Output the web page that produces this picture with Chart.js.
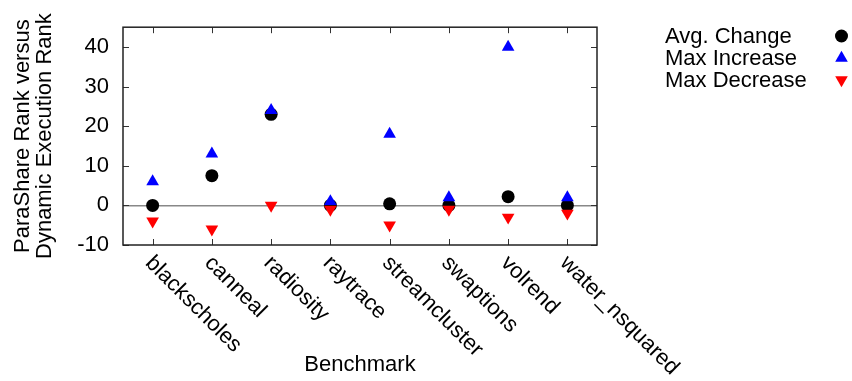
<!DOCTYPE html>
<html>
<head>
<meta charset="utf-8">
<script src="https://cdn.jsdelivr.net/npm/chart.js@4.4.0/dist/chart.umd.min.js"></script>
<style>
  body { margin: 0; background: #fff; }
  #wrap { width: 852px; height: 381px; }
</style>
</head>
<body>
<div id="wrap"><canvas id="rankChart" width="852" height="381"></canvas></div>
<script>
const benchmarks = ['blackscholes', 'canneal', 'radiosity', 'raytrace', 'streamcluster', 'swaptions', 'volrend', 'water_nsquared'];
const avgChange = [0, 7.5, 23, 0, 0.4, 0, 2.2, 0];
const maxIncrease = [6, 13, 24, 1, 18, 2, 40, 2];
const maxDecrease = [-4, -6, 0, -1, -5, -1, -3, -2];
const yTicks = [-10, 0, 10, 20, 30, 40];

const FAMILY = "'Liberation Sans', Arial, Helvetica, sans-serif";
const FONT_SIZE = 22;

// gnuplot-ish marker, same geometry as Chart.js pointStyle
function drawMarker(ctx, style, rot, r, x, y, color) {
  ctx.save();
  ctx.fillStyle = color;
  ctx.beginPath();
  if (style === 'circle') {
    ctx.arc(x, y, r, 0, Math.PI * 2);
  } else {
    let rad = rot * Math.PI / 180;
    ctx.moveTo(x + Math.sin(rad) * r, y - Math.cos(rad) * r);
    rad += Math.PI * 2 / 3;
    ctx.lineTo(x + Math.sin(rad) * r, y - Math.cos(rad) * r);
    rad += Math.PI * 2 / 3;
    ctx.lineTo(x + Math.sin(rad) * r, y - Math.cos(rad) * r);
    ctx.closePath();
  }
  ctx.fill();
  ctx.restore();
}

const framePlugin = {
  id: 'frame',
  afterDraw(chart) {
    const {ctx, chartArea: a, scales: {x, y}} = chart;
    ctx.save();

    // inward tick marks
    ctx.strokeStyle = '#333';
    ctx.lineWidth = 1;
    ctx.beginPath();
    yTicks.forEach(v => {
      const py = Math.round(y.getPixelForValue(v)) + 0.5;
      ctx.moveTo(a.left, py); ctx.lineTo(a.left + 6, py);
      ctx.moveTo(a.right, py); ctx.lineTo(a.right - 6, py);
    });
    benchmarks.forEach((b, i) => {
      const px = Math.round(x.getPixelForTick(i)) + 0.5;
      ctx.moveTo(px, a.bottom); ctx.lineTo(px, a.bottom - 6);
      ctx.moveTo(px, a.top); ctx.lineTo(px, a.top + 6);
    });
    ctx.stroke();

    // border box
    ctx.strokeStyle = '#222';
    ctx.lineWidth = 1.5;
    ctx.strokeRect(a.left, a.top, a.right - a.left, a.bottom - a.top);

    // rotated category labels
    ctx.fillStyle = '#000';
    ctx.font = FONT_SIZE + 'px ' + FAMILY;
    ctx.textAlign = 'left';
    ctx.textBaseline = 'top';
    benchmarks.forEach((b, i) => {
      const px = x.getPixelForTick(i);
      ctx.save();
      ctx.translate(px + 4, a.bottom + 7);
      ctx.rotate(Math.PI / 4);
      ctx.fillText(b, 0, 0);
      ctx.restore();
    });

    // legend, text left and marker right like gnuplot
    ctx.textBaseline = 'alphabetic';
    chart.data.datasets.forEach((ds, i) => {
      const rowY = 36 + i * 22;
      ctx.fillStyle = '#000';
      ctx.fillText(ds.label, 665, rowY + 7);
      drawMarker(ctx, ds.pointStyle, ds.rotation || 0, ds.pointRadius, 841.5, rowY, ds.backgroundColor);
    });
    ctx.restore();
  }
};

const chart = new Chart(document.getElementById('rankChart'), {
  type: 'line',
  data: {
    labels: benchmarks,
    datasets: [
      { label: 'Avg. Change', data: avgChange, showLine: false, pointStyle: 'circle', pointRadius: 6.5,
        backgroundColor: '#000', borderColor: '#000', pointBorderWidth: 0, order: 3 },
      { label: 'Max Increase', data: maxIncrease, showLine: false, pointStyle: 'triangle', pointRadius: 7.3,
        backgroundColor: '#0000ff', borderColor: '#0000ff', pointBorderWidth: 0, order: 2 },
      { label: 'Max Decrease', data: maxDecrease, showLine: false, pointStyle: 'triangle', rotation: 180, pointRadius: 7.3,
        backgroundColor: '#ff0000', borderColor: '#ff0000', pointBorderWidth: 0, order: 1 }
    ]
  },
  options: {
    responsive: false,
    animation: false,
    events: [],
    layout: { padding: { top: 24, right: 255, bottom: 0, left: 0 } },
    plugins: { legend: { display: false }, tooltip: { enabled: false } },
    scales: {
      x: {
        offset: true,
        afterFit: s => { s.height = 136; },
        ticks: { display: false },
        grid: { display: false, drawTicks: false },
        border: { display: false },
        title: { display: true, text: 'Benchmark', color: '#000',
          font: { family: FAMILY, size: FONT_SIZE, lineHeight: 1 }, padding: { top: 0, bottom: 5 } }
      },
      y: {
        min: -10, max: 45,
        afterFit: s => { s.width = 123; },
        afterBuildTicks: s => { s.ticks = yTicks.map(v => ({ value: v })); },
        ticks: { color: '#000', padding: 14, font: { family: FAMILY, size: FONT_SIZE } },
        grid: {
          drawTicks: false,
          lineWidth: 1.5,
          color: c => (c.tick && c.tick.value === 0) ? '#888' : 'rgba(0,0,0,0)'
        },
        border: { display: false },
        title: { display: true, text: ['ParaShare Rank versus', 'Dynamic Execution Rank'], color: '#000',
          font: { family: FAMILY, size: FONT_SIZE, lineHeight: 1 }, padding: { top: 11.5, bottom: 0 } }
      }
    }
  },
  plugins: [framePlugin]
});
</script>
</body>
</html>
